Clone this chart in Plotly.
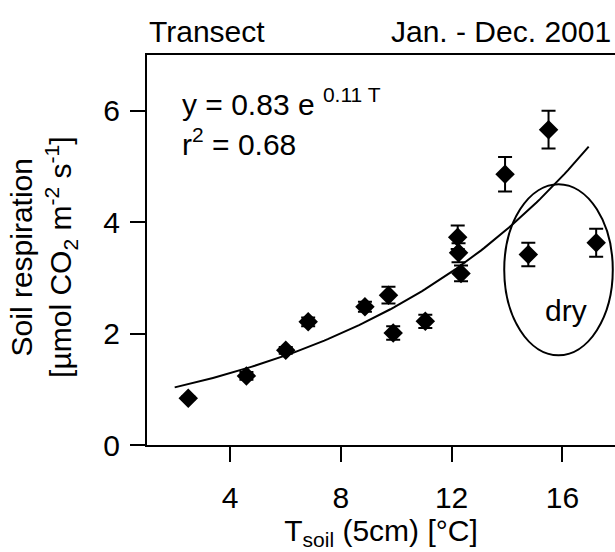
import numpy as np
import plotly.graph_objects as go

# Soil temperature at 5 cm (°C) and mean soil respiration (µmol CO2 m-2 s-1)
t_soil = [2.49, 4.59, 6.01, 6.82, 8.87, 9.72, 9.89, 11.05, 12.22, 12.25, 12.34, 13.93, 14.77, 15.50, 17.22]
resp = [0.84, 1.24, 1.70, 2.21, 2.48, 2.69, 2.01, 2.22, 3.73, 3.45, 3.08, 4.86, 3.42, 5.66, 3.63]
resp_err = [0.03, 0.07, 0.06, 0.08, 0.09, 0.15, 0.12, 0.12, 0.21, 0.17, 0.14, 0.31, 0.21, 0.34, 0.25]

# Exponential fit y = a * exp(b * T)
fit_a = 0.83
fit_b = 0.11
fit_t = np.linspace(2.0, 16.95, 120)
fit_y = fit_a * np.exp(fit_b * fit_t)

x_ticks = [4, 8, 12, 16]
y_ticks = [0, 2, 4, 6]

FONT = "Liberation Sans, Arial, sans-serif"
FS = 30

fig = go.Figure()
fig.add_trace(go.Scatter(
    x=fit_t, y=fit_y, mode="lines",
    line=dict(color="black", width=2), hoverinfo="skip", showlegend=False,
))
fig.add_trace(go.Scatter(
    x=t_soil, y=resp, mode="markers",
    marker=dict(symbol="diamond", size=15, color="black"),
    error_y=dict(type="data", array=resp_err, visible=True, color="black", thickness=2, width=7),
    showlegend=False,
))

# Ellipse around the dry-period points
fig.add_shape(type="circle", xref="x", yref="y", x0=13.90, x1=17.82, y0=1.61, y1=4.68,
              line=dict(color="black", width=2))

fig.add_annotation(x=16.13, y=2.42, xref="x", yref="y", text="dry", showarrow=False,
                   font=dict(size=FS, color="black", family=FONT))
fig.add_annotation(x=0.07, y=0.88, xref="paper", yref="paper", xanchor="left", yanchor="middle",
                   text=f"y = {fit_a} e <sup>{fit_b} T</sup>", showarrow=False,
                   font=dict(size=FS, color="black", family=FONT))
fig.add_annotation(x=0.07, y=0.777, xref="paper", yref="paper", xanchor="left", yanchor="middle",
                   text="r<sup>2</sup> = 0.68", showarrow=False,
                   font=dict(size=FS, color="black", family=FONT))

# Headings above the frame
fig.add_annotation(x=0.0, y=1.0, xref="paper", yref="paper", xanchor="left", yanchor="bottom",
                   yshift=5, text="Transect", showarrow=False,
                   font=dict(size=FS, color="black", family=FONT))
fig.add_annotation(x=0.995, y=1.0, xref="paper", yref="paper", xanchor="right", yanchor="bottom",
                   yshift=5, text="Jan. - Dec. 2001", showarrow=False,
                   font=dict(size=FS, color="black", family=FONT))

# Y-axis title (two lines, rotated)
fig.add_annotation(x=-0.222, y=0.48, xref="paper", yref="paper", xanchor="center", yanchor="middle",
                   textangle=-90, showarrow=False,
                   text="Soil respiration<br>[µmol CO<sub>2</sub> m<sup>-2</sup> s<sup>-1</sup>]",
                   font=dict(size=FS, color="black", family=FONT))

fig.update_xaxes(
    range=[1, 17.9], tickvals=x_ticks, ticks="outside", ticklen=15, tickwidth=2, tickcolor="black",
    showline=True, linecolor="black", linewidth=2, mirror=True, showgrid=False, zeroline=False,
    ticklabelstandoff=10,
    tickfont=dict(size=FS, color="black", family=FONT),
    title=dict(text="T<sub>soil</sub> (5cm) [°C]", font=dict(size=FS, color="black", family=FONT), standoff=6),
)
fig.update_yaxes(
    range=[0, 7], tickvals=y_ticks, ticks="outside", ticklen=15, tickwidth=2, tickcolor="black",
    showline=True, linecolor="black", linewidth=2, showgrid=False, zeroline=False,
    ticklabelstandoff=4,
    tickfont=dict(size=FS, color="black", family=FONT),
)
fig.update_layout(
    width=615, height=552,
    margin=dict(l=147, r=0, t=55, b=107),
    plot_bgcolor="white", paper_bgcolor="white",
    font=dict(family=FONT, color="black"),
)
fig.write_html("out.html")
